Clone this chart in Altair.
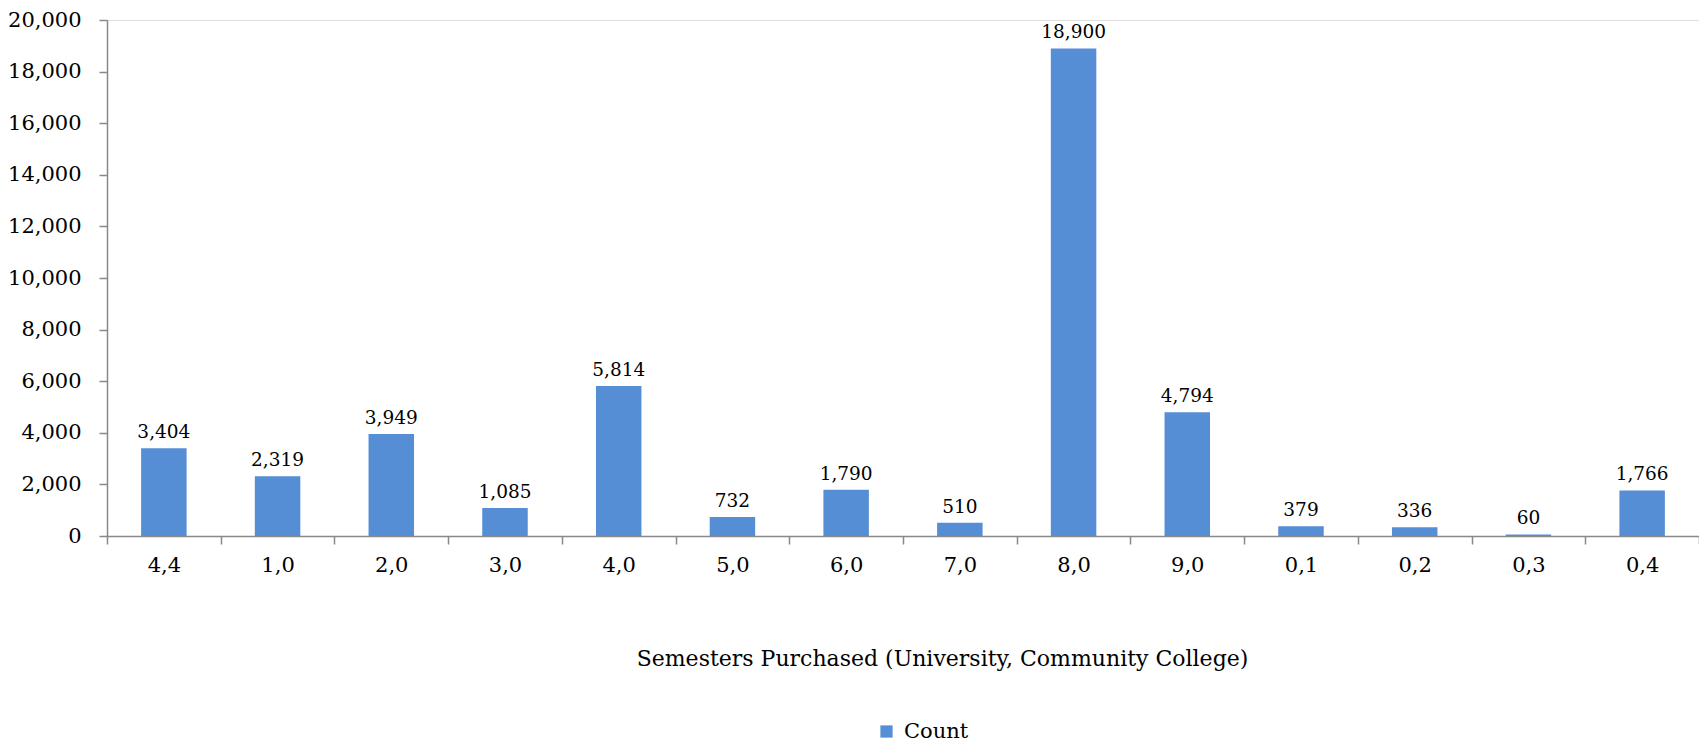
import altair as alt
import pandas as pd

categories = ["4,4", "1,0", "2,0", "3,0", "4,0", "5,0", "6,0", "7,0", "8,0", "9,0", "0,1", "0,2", "0,3", "0,4"]
counts = [3404, 2319, 3949, 1085, 5814, 732, 1790, 510, 18900, 4794, 379, 336, 60, 1766]
series = ["Count"] * len(categories)
y_ticks = list(range(0, 20001, 2000))

df = pd.DataFrame({"cat": categories, "value": counts, "series": series})

FONT = "DejaVu Serif"
BAR = "#558ED5"
AXIS = "#898989"

x = alt.X("cat:N", sort=categories,
          scale=alt.Scale(paddingInner=0, paddingOuter=0),
          axis=alt.Axis(title="Semesters Purchased (University, Community College)",
                        labelAngle=0, tickBand="extent", ticks=True, tickSize=8,
                        labelPadding=10, labelFontSize=21, labelColor="black",
                        titleFontSize=22, titleFontWeight="normal", titleColor="black",
                        titleX=835, titleY=122, titleBaseline="middle", titleAlign="center",
                        domainColor=AXIS, tickColor=AXIS, domainWidth=1.5, tickWidth=1.5,
                        labelFont=FONT, titleFont=FONT, grid=False))
y = alt.Y("value:Q", scale=alt.Scale(domain=[0, 20000], nice=False),
          axis=alt.Axis(title=None, values=y_ticks, format=",d", tickSize=8, labelPadding=18,
                        labelFontSize=21, labelColor="black", labelFont=FONT,
                        domainColor=AXIS, tickColor=AXIS, domainWidth=1.5, tickWidth=1.5,
                        grid=False))

bars = alt.Chart(df).mark_bar(width={"band": 0.4}).encode(
    x=x, y=y,
    color=alt.Color("series:N", scale=alt.Scale(domain=["Count"], range=[BAR]),
                    legend=alt.Legend(title=None, orient="none", legendX=769, legendY=701,
                                      symbolType="square", symbolSize=150, symbolStrokeWidth=0,
                                      labelFontSize=21, labelFont=FONT, labelColor="black",
                                      labelOffset=7, padding=0)),
)

labels = alt.Chart(df).mark_text(baseline="alphabetic", dy=-10, font=FONT, fontSize=18.5,
                                 color="black").encode(
    x=alt.X("cat:N", sort=categories),
    y="value:Q",
    text=alt.Text("value:Q", format=",d"),
)

chart = (bars + labels).properties(
    width=1592, height=516,
    autosize=alt.AutoSizeParams(type="none"),
    padding={"left": 99, "top": 12, "right": 0, "bottom": 211},
).configure_view(stroke=None).configure(background="white", font=FONT)

chart.save("out.html", embed_options={"renderer": "svg", "actions": False})
